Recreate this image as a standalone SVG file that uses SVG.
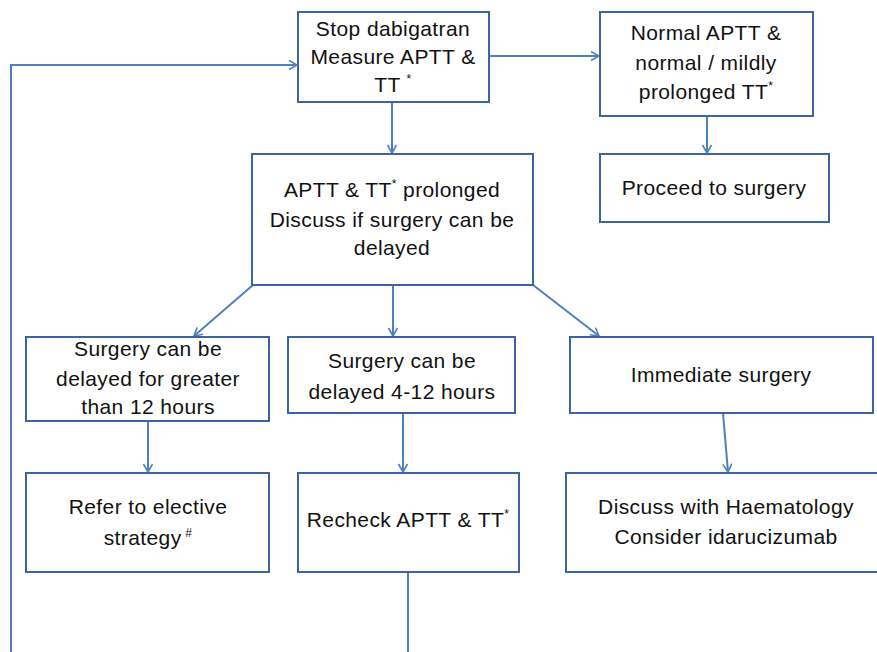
<svg xmlns="http://www.w3.org/2000/svg" width="877" height="652" viewBox="0 0 877 652">
<style>
  .box { fill: #ffffff; stroke: #3b64a0; stroke-width: 2; }
  .t { font-family: "Liberation Sans", Arial, sans-serif; font-size: 21px; fill: #111111; text-anchor: middle; letter-spacing: 0.4px; }
  .sup { font-size: 12px; }
  .conn { fill: none; stroke: #4f81bd; stroke-width: 2; }
</style>
<defs>
  <marker id="arr" markerUnits="userSpaceOnUse" markerWidth="12" markerHeight="12" refX="9" refY="5" orient="auto">
    <path d="M1,0.5 L9,5 L1,9.5" fill="none" stroke="#4f81bd" stroke-width="1.6"/>
  </marker>
</defs>
<rect width="877" height="652" fill="#ffffff"/>

<g id="connectors">
  <line class="conn" x1="489" y1="56" x2="599" y2="56" marker-end="url(#arr)"/>
  <line class="conn" x1="392" y1="102" x2="392" y2="153" marker-end="url(#arr)"/>
  <line class="conn" x1="707" y1="116" x2="707" y2="153" marker-end="url(#arr)"/>
  <line class="conn" x1="253" y1="285" x2="194" y2="336" marker-end="url(#arr)"/>
  <line class="conn" x1="393" y1="285" x2="393" y2="336" marker-end="url(#arr)"/>
  <line class="conn" x1="533" y1="285" x2="599" y2="336" marker-end="url(#arr)"/>
  <line class="conn" x1="148" y1="421" x2="148" y2="472" marker-end="url(#arr)"/>
  <line class="conn" x1="403" y1="413" x2="403" y2="472" marker-end="url(#arr)"/>
  <line class="conn" x1="723" y1="413" x2="728" y2="472" marker-end="url(#arr)"/>
  <line class="conn" x1="408" y1="572" x2="408" y2="653"/>
  <polyline class="conn" points="11,653 11,65 297,65" marker-end="url(#arr)"/>
</g>

<g id="n-stop">
  <rect class="box" x="298" y="12" width="191" height="90"/>
  <text class="t" x="393" y="36">Stop dabigatran</text>
  <text class="t" x="393" y="64">Measure APTT &amp;</text>
  <text class="t" x="393" y="92">TT <tspan class="sup" dy="-9">*</tspan></text>
</g>

<g id="n-normal">
  <rect class="box" x="600" y="12" width="213" height="104"/>
  <text class="t" x="706" y="40">Normal APTT &amp;</text>
  <text class="t" x="706" y="70">normal / mildly</text>
  <text class="t" x="706" y="99">prolonged TT<tspan class="sup" dy="-9">*</tspan></text>
</g>

<g id="n-proceed">
  <rect class="box" x="600" y="154" width="229" height="68"/>
  <text class="t" x="714" y="195">Proceed to surgery</text>
</g>

<g id="n-prolonged">
  <rect class="box" x="252" y="154" width="281" height="131"/>
  <text class="t" x="392" y="197">APTT &amp; TT<tspan class="sup" dy="-9">*</tspan><tspan dy="9"> prolonged</tspan></text>
  <text class="t" x="392" y="227">Discuss if surgery can be</text>
  <text class="t" x="392" y="255">delayed</text>
</g>

<g id="n-greater">
  <rect class="box" x="26" y="337" width="243" height="84"/>
  <text class="t" x="148" y="356">Surgery can be</text>
  <text class="t" x="148" y="386">delayed for greater</text>
  <text class="t" x="148" y="414">than 12 hours</text>
</g>

<g id="n-4to12">
  <rect class="box" x="288" y="337" width="227" height="76"/>
  <text class="t" x="402" y="368">Surgery can be</text>
  <text class="t" x="402" y="399">delayed 4-12 hours</text>
</g>

<g id="n-immediate">
  <rect class="box" x="570" y="337" width="303" height="76"/>
  <text class="t" x="721" y="382">Immediate surgery</text>
</g>

<g id="n-refer">
  <rect class="box" x="26" y="473" width="243" height="99"/>
  <text class="t" x="148" y="514">Refer to elective</text>
  <text class="t" x="148" y="545">strategy<tspan class="sup" dy="-8"> #</tspan></text>
</g>

<g id="n-recheck">
  <rect class="box" x="298" y="473" width="221" height="99"/>
  <text class="t" x="408" y="527">Recheck APTT &amp; TT<tspan class="sup" dy="-9">*</tspan></text>
</g>

<g id="n-discuss">
  <rect class="box" x="566" y="473" width="313" height="99"/>
  <text class="t" x="726" y="514">Discuss with Haematology</text>
  <text class="t" x="726" y="544">Consider idarucizumab</text>
</g>
</svg>
